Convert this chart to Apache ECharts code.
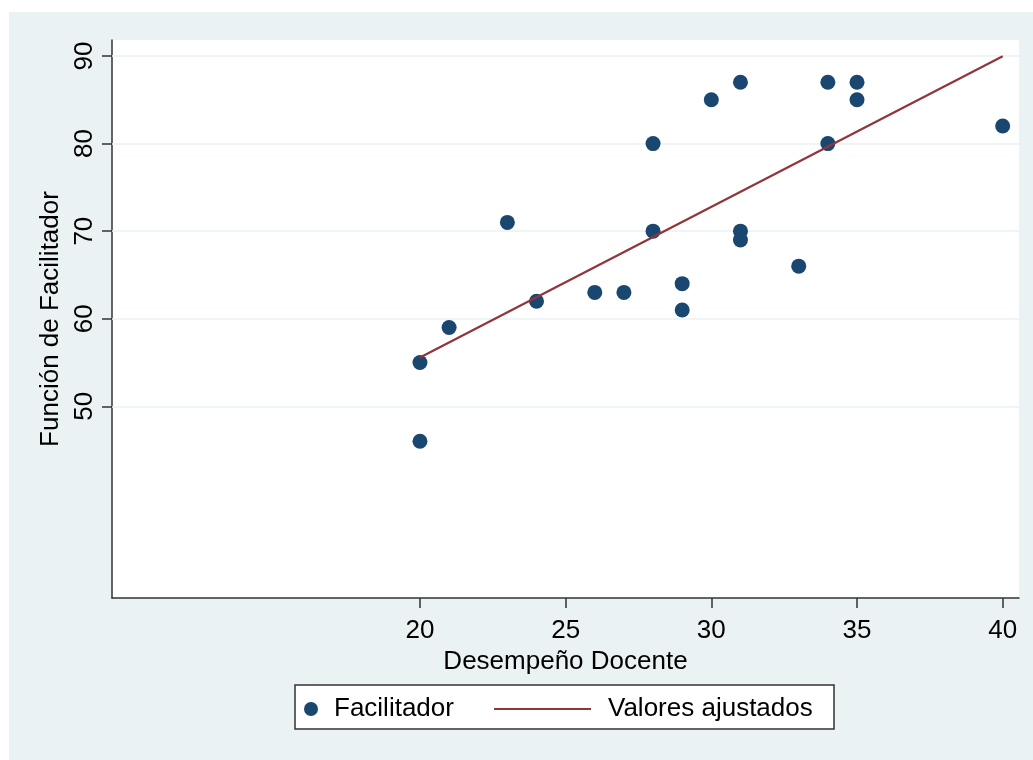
<!DOCTYPE html>
<html>
<head>
<meta charset="utf-8">
<script src="https://cdn.jsdelivr.net/npm/echarts@6/dist/echarts.min.js"></script>
<style>
  html, body { margin: 0; padding: 0; background: #ffffff; }
  #panel { position: absolute; left: 9px; top: 12px; width: 1024px; height: 748px; background: #eaf2f3; }
  #chart { position: absolute; left: 0; top: 0; width: 1033px; height: 760px; }
</style>
</head>
<body>
<div id="panel"></div>
<div id="chart"></div>
<script>
// Data
const xValues = [20, 20, 21, 23, 24, 26, 27, 28, 28, 29, 29, 30, 31, 31, 31, 33, 34, 34, 35, 35, 40];
const yValues = [55, 46, 59, 71, 62, 63, 63, 80, 70, 64, 61, 85, 87, 70, 69, 66, 87, 80, 87, 85, 82];
const fitX = [20, 40];
const fitY = [55.56, 89.98];
const xTicks = [20, 25, 30, 35, 40];
const yTicks = [50, 60, 70, 80, 90];
const scatterName = 'Facilitador';
const fitName = 'Valores ajustados';
const xTitle = 'Desempeño Docente';
const yTitle = 'Función de Facilitador';

const FONT = '"Liberation Sans", Arial, Helvetica, sans-serif';
const points = xValues.map((x, i) => [x, yValues[i]]);
const fitPoints = fitX.map((x, i) => [x, fitY[i]]);

const chart = echarts.init(document.getElementById('chart'), null, { renderer: 'canvas' });
chart.setOption({
  backgroundColor: 'transparent',
  animation: false,
  textStyle: { fontFamily: FONT },
  grid: {
    left: 112, right: 14, top: 40, bottom: 162,
    show: true, backgroundColor: '#ffffff', borderWidth: 0
  },
  xAxis: {
    type: 'value',
    min: 9.43, max: 40.56,
    name: xTitle,
    nameLocation: 'middle',
    nameGap: 43,
    nameTextStyle: { fontSize: 26, color: '#000', fontFamily: FONT },
    axisLine: { show: true, onZero: false, lineStyle: { color: '#333', width: 1.5 } },
    axisTick: { show: true, length: 10, customValues: xTicks, lineStyle: { color: '#333', width: 1.5 } },
    axisLabel: { customValues: xTicks, fontSize: 26, color: '#000', margin: 20, fontFamily: FONT },
    splitLine: { show: false }
  },
  yAxis: {
    type: 'value',
    min: 28.1, max: 91.83,
    name: yTitle,
    nameLocation: 'middle',
    nameGap: 41,
    nameRotate: 90,
    nameTextStyle: { fontSize: 26, color: '#000', fontFamily: FONT },
    axisLine: { show: true, onZero: false, lineStyle: { color: '#333', width: 1.5 } },
    axisTick: { show: true, length: 10, customValues: yTicks, lineStyle: { color: '#333', width: 1.5 } },
    axisLabel: { customValues: yTicks, fontSize: 26, color: '#000', margin: 14, rotate: 90, fontFamily: FONT },
    splitLine: { show: false }
  },
  legend: [
    {
      data: [{ name: scatterName, icon: 'circle' }],
      left: 304, top: 696, padding: 0,
      itemWidth: 14, itemHeight: 14,
      selectedMode: false,
      textStyle: { fontSize: 26, color: '#000', fontFamily: FONT, padding: [0, 0, 0, 11] }
    },
    {
      data: [{ name: fitName, icon: 'rect' }],
      left: 494, top: 696, padding: 0,
      itemWidth: 97, itemHeight: 2,
      selectedMode: false,
      textStyle: { fontSize: 26, color: '#000', fontFamily: FONT, padding: [0, 0, 0, 12] }
    }
  ],
  graphic: [
    {
      type: 'rect', z: 0,
      shape: { x: 295, y: 685, width: 539, height: 44 },
      style: { fill: '#ffffff', stroke: '#333', lineWidth: 1.5 }
    }
  ],
  series: [
    {
      name: scatterName,
      type: 'scatter',
      data: points,
      symbol: 'circle',
      symbolSize: 15,
      itemStyle: { color: '#1a476f', opacity: 1 },
      markLine: {
        silent: true, z: 1,
        symbol: ['none', 'none'],
        label: { show: false },
        lineStyle: { color: '#eaf2f3', width: 1.5, type: 'solid' },
        data: yTicks.map(v => ({ yAxis: v }))
      }
    },
    {
      name: fitName,
      type: 'line',
      data: fitPoints,
      symbol: 'none',
      showSymbol: false,
      lineStyle: { color: '#90353b', width: 2.2 },
      itemStyle: { color: '#90353b' }
    }
  ]
});
</script>
</body>
</html>
